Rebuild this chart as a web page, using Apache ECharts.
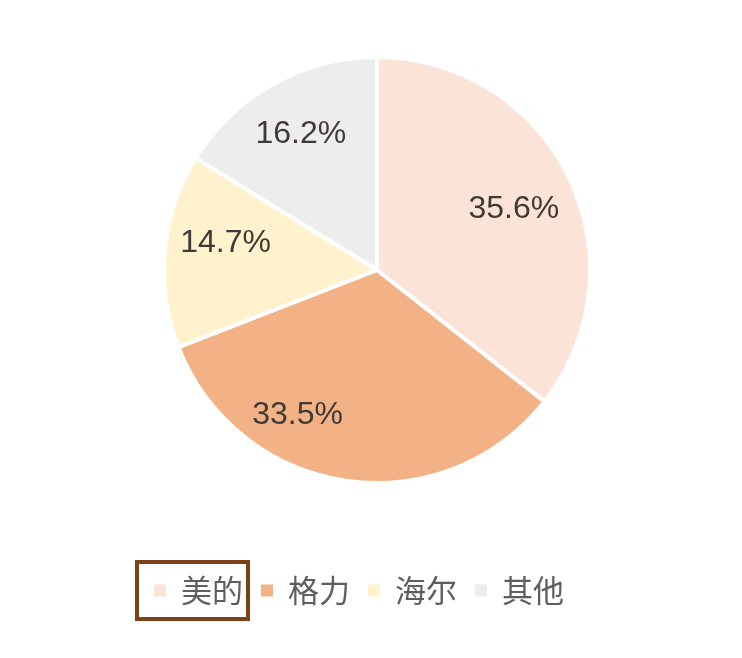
<!DOCTYPE html>
<html>
<head>
<meta charset="utf-8">
<script src="https://cdn.jsdelivr.net/npm/echarts@6/dist/echarts.min.js"></script>
<style>
  html, body { margin: 0; padding: 0; background: #fff; }
  #chart-container { width: 742px; height: 658px; }
</style>
</head>
<body>
<div id="chart-container"></div>
<script>
var brands = ['美的', '格力', '海尔', '其他'];
var shares = [35.6, 33.5, 14.7, 16.2];
var colors = ['#fbe4d7', '#f2b286', '#fff2cd', '#ededed'];

var dom = document.getElementById('chart-container');
var myChart = echarts.init(dom);
var option;

var R = 213;
// hand-placed label nudges, as in the source chart
var labelNudge = [[0, 6], [-57, -5], [0, -13], [-2, -3]];

var pieData = brands.map(function (name, i) {
  return { name: name, value: shares[i], itemStyle: { color: colors[i] } };
});
// label layer: same slices, transparent ring so labels sit at ~0.7R
var labelData = brands.map(function (name, i) {
  return { name: name, value: shares[i], label: { offset: labelNudge[i] } };
});

option = {
  animation: false,
  legend: {
    data: brands,
    left: 152,
    top: 575,
    padding: 0,
    itemWidth: 14,
    itemHeight: 14,
    itemGap: 16,
    icon: 'rect',
    textStyle: {
      fontSize: 31,
      color: '#5e5e5e',
      fontFamily: 'Noto Sans CJK SC',
      padding: [0, 0, 0, 9]
    }
  },
  graphic: [
    {
      type: 'rect',
      shape: { x: 137, y: 562, width: 111, height: 57 },
      style: { fill: 'none', stroke: '#7b4218', lineWidth: 4 },
      silent: true
    }
  ],
  series: [
    {
      type: 'pie',
      center: [377, 270],
      radius: [0, R],
      startAngle: 90,
      clockwise: true,
      label: { show: false },
      labelLine: { show: false },
      itemStyle: { borderColor: '#fff', borderWidth: 4 },
      data: pieData
    },
    {
      type: 'pie',
      center: [377, 270],
      radius: [R * 0.4, R],
      startAngle: 90,
      clockwise: true,
      silent: true,
      itemStyle: { color: 'transparent' },
      label: {
        show: true,
        position: 'inside',
        formatter: function (p) { return p.value.toFixed(1) + '%'; },
        fontSize: 32,
        color: '#3f3a37',
        fontFamily: 'Liberation Sans, Arial, sans-serif'
      },
      labelLine: { show: false },
      data: labelData
    }
  ]
};

if (option && typeof option === 'object') {
  myChart.setOption(option);
}

window.addEventListener('resize', myChart.resize);
</script>
</body>
</html>
